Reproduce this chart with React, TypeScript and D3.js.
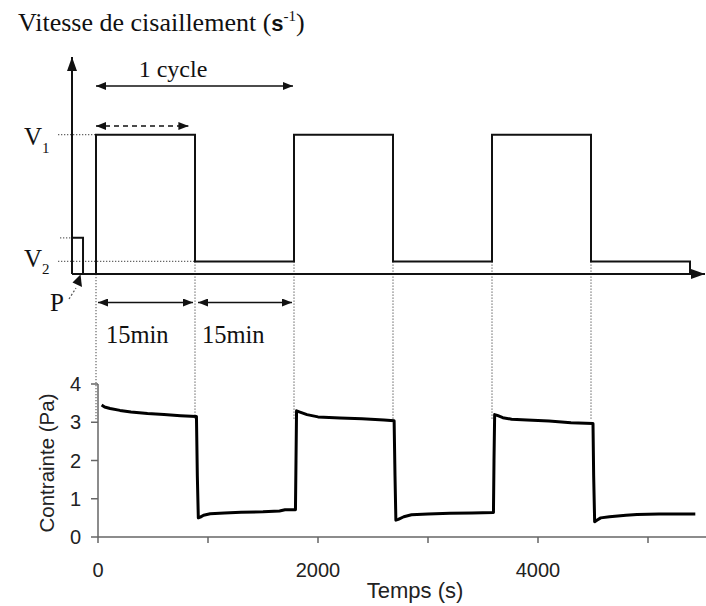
import React from 'react';
import * as d3 from 'd3';

// ---- data ----
const cycleBounds = [0, 900, 1800, 2700, 3600, 4500, 5400]; // s
const cycleLevels = ['V1', 'V2', 'V1', 'V2', 'V1', 'V2'];
const levelNames = ['P', 'V1', 'V2'];
const levelValues = [0.26, 1, 0.09];
const preShear = [-218, -118];

const stressTime = [
  33, 60, 110, 200, 300, 450, 600, 750, 895, 903, 912,
  930, 960, 1020, 1150, 1300, 1500, 1650, 1700, 1795, 1800, 1805,
  1830, 1900, 2000, 2200, 2400, 2600, 2692, 2700, 2708,
  2730, 2780, 2850, 3000, 3200, 3400, 3595, 3600, 3606,
  3630, 3680, 3760, 3900, 4100, 4300, 4500, 4506, 4515,
  4535, 4570, 4650, 4800, 4900, 5100, 5430,
];
const stressValue = [
  3.45, 3.4, 3.36, 3.31, 3.27, 3.23, 3.2, 3.17, 3.15, 1.6, 0.5,
  0.52, 0.57, 0.61, 0.63, 0.65, 0.66, 0.68, 0.71, 0.71, 2.0, 3.3,
  3.27, 3.2, 3.14, 3.11, 3.09, 3.06, 3.04, 1.6, 0.44,
  0.46, 0.53, 0.58, 0.6, 0.62, 0.63, 0.64, 2.0, 3.2,
  3.18, 3.12, 3.08, 3.06, 3.03, 2.99, 2.97, 1.6, 0.4,
  0.44, 0.5, 0.53, 0.57, 0.59, 0.6, 0.6,
];
const xTicks = [0, 1000, 2000, 3000, 4000, 5000];
const xTickLabels = ['0', '', '2000', '', '4000', ''];
const yTicks = [0, 1, 2, 3, 4];

const SERIF = '"Liberation Serif", "Times New Roman", serif';
const SANS = '"Liberation Sans", Arial, sans-serif';

export default function App() {
  const lvl = (n: string) => levelValues[levelNames.indexOf(n)];
  const xTop = d3.scaleLinear().domain([0, 5500]).range([96, 701]);
  const yTop = d3.scaleLinear().domain([0, 1]).range([274, 134.7]);
  const xBot = d3.scaleLinear().domain([0, 5500]).range([98, 703]);
  const yBot = d3.scaleLinear().domain([0, 4]).range([537, 384]);

  const line = d3.line<[number, number]>().x((d) => d[0]).y((d) => d[1]);

  // square wave
  const wave: [number, number][] = [[xTop(0), yTop(0)]];
  cycleLevels.forEach((l, i) => {
    wave.push([xTop(cycleBounds[i]), yTop(lvl(l))]);
    wave.push([xTop(cycleBounds[i + 1]), yTop(lvl(l))]);
  });
  wave.push([xTop(cycleBounds[cycleBounds.length - 1]), yTop(0)]);

  const pulse: [number, number][] = [
    [xTop(preShear[0]), yTop(lvl('P'))],
    [xTop(preShear[1]), yTop(lvl('P'))],
    [xTop(preShear[1]), yTop(0)],
  ];

  const stressLine = d3
    .line<number>()
    .x((_, i) => xBot(stressTime[i]))
    .y((d) => yBot(d));

  const axisX0 = xTop(preShear[0]);
  const dotted = { stroke: '#666', strokeWidth: 1.2, strokeDasharray: '1.3,1.7' };

  return (
    <svg width={706} height={606} style={{ position: 'absolute', left: 0, top: 0, background: '#fff' }}>
      <defs>
        <marker id="ah" viewBox="0 0 10 8" refX={10} refY={4} markerWidth={10} markerHeight={8}
          markerUnits="userSpaceOnUse" orient="auto-start-reverse">
          <path d="M0,0 L10,4 L0,8 z" fill="#111" />
        </marker>
        <marker id="ahBig" viewBox="0 0 14 10" refX={14} refY={5} markerWidth={14} markerHeight={10}
          markerUnits="userSpaceOnUse" orient="auto">
          <path d="M0,0 L14,5 L0,10 z" fill="#111" />
        </marker>
      </defs>

      {/* title */}
      <text x={18} y={31} fontFamily={SERIF} fontSize={26} fill="#111">
        Vitesse de cisaillement (
        <tspan fontFamily={SANS} fontWeight="bold" fontSize={22}>s</tspan>
        <tspan fontSize={15} dy={-10}>-1</tspan>
        <tspan dy={10}>)</tspan>
      </text>

      {/* guide dotted lines */}
      <line x1={58} x2={xTop(0)} y1={yTop(lvl('V1'))} y2={yTop(lvl('V1'))} {...dotted} />
      <line x1={58} x2={xTop(cycleBounds[1])} y1={yTop(lvl('V2'))} y2={yTop(lvl('V2'))} {...dotted} />
      <line x1={60} x2={axisX0} y1={yTop(lvl('P'))} y2={yTop(lvl('P'))} {...dotted} />
      {cycleBounds.slice(0, -1).map((b, i) => (
        <line key={b} x1={xTop(b)} x2={xTop(b)} y1={i === 0 ? yTop(0) : yTop(lvl('V2'))}
          y2={yBot(3.05)} {...dotted} />
      ))}

      {/* top axes */}
      <line x1={axisX0} x2={axisX0} y1={yTop(0)} y2={57} stroke="#111" strokeWidth={2} markerEnd="url(#ahBig)" />
      <line x1={axisX0} x2={705} y1={yTop(0)} y2={yTop(0)} stroke="#111" strokeWidth={2} markerEnd="url(#ahBig)" />

      {/* square wave */}
      <path d={line(wave) ?? ''} fill="none" stroke="#111" strokeWidth={2} />
      <path d={line(pulse) ?? ''} fill="none" stroke="#111" strokeWidth={2} />

      {/* cycle arrows */}
      <line x1={xTop(0)} x2={xTop(1800) - 1} y1={86} y2={86} stroke="#111" strokeWidth={1.6}
        markerStart="url(#ah)" markerEnd="url(#ah)" />
      <text x={173} y={77} textAnchor="middle" fontFamily={SERIF} fontSize={24} fill="#111">1 cycle</text>
      <line x1={xTop(0)} x2={xTop(840)} y1={126} y2={126} stroke="#111" strokeWidth={1.6}
        strokeDasharray="5,4" markerStart="url(#ah)" markerEnd="url(#ah)" />

      {/* 15 min arrows */}
      <line x1={xTop(0) + 2} x2={xTop(900) - 2} y1={302.5} y2={302.5} stroke="#111" strokeWidth={1.6}
        markerStart="url(#ah)" markerEnd="url(#ah)" />
      <line x1={xTop(900) + 3} x2={xTop(1800) - 2} y1={302.5} y2={302.5} stroke="#111" strokeWidth={1.6}
        markerStart="url(#ah)" markerEnd="url(#ah)" />
      <text x={xTop(0) + 10} y={343} fontFamily={SERIF} fontSize={24.5} fill="#111">15min</text>
      <text x={xTop(900) + 7} y={343} fontFamily={SERIF} fontSize={24.5} fill="#111">15min</text>

      {/* level labels */}
      <text x={24} y={145} fontFamily={SERIF} fontSize={25} fill="#111">V<tspan fontSize={15} dy={8}>1</tspan></text>
      <text x={24} y={267} fontFamily={SERIF} fontSize={25} fill="#111">V<tspan fontSize={15} dy={7}>2</tspan></text>
      <text x={50} y={311} fontFamily={SERIF} fontSize={25} fill="#111">P</text>
      <line x1={69} y1={299} x2={76} y2={288} stroke="#555" strokeWidth={1.2} strokeDasharray="2,2" />
      <path d="M80.5,274.5 L72.5,282.5 L82,287 z" fill="#111" />

      {/* bottom chart axes */}
      <line x1={xBot(0)} x2={xBot(0)} y1={yBot(0)} y2={yBot(4)} stroke="#666" strokeWidth={1.5} />
      <line x1={xBot(0)} x2={706} y1={yBot(0)} y2={yBot(0)} stroke="#666" strokeWidth={1.5} />
      {yTicks.map((t) => (
        <g key={t}>
          <line x1={xBot(0) - 7} x2={xBot(0)} y1={yBot(t)} y2={yBot(t)} stroke="#666" strokeWidth={1.5} />
          <text x={81} y={yBot(t)} dy="0.36em" textAnchor="end" fontFamily={SANS} fontSize={20} fill="#222">{t}</text>
        </g>
      ))}
      {xTicks.map((t, i) => (
        <g key={t}>
          <line x1={xBot(t)} x2={xBot(t)} y1={yBot(0)} y2={yBot(0) + 6} stroke="#666" strokeWidth={1.5} />
          <text x={xBot(t)} y={577} textAnchor="middle" fontFamily={SANS} fontSize={20} fill="#222">{xTickLabels[i]}</text>
        </g>
      ))}
      <text x={415} y={598} textAnchor="middle" fontFamily={SANS} fontSize={22} fill="#222">Temps (s)</text>
      <text transform="translate(47,463) rotate(-90)" textAnchor="middle" dy="0.36em" fontFamily={SANS}
        fontSize={20.5} fill="#222">Contrainte (Pa)</text>

      {/* stress curve */}
      <path d={stressLine(stressValue) ?? ''} fill="none" stroke="#000" strokeWidth={3} strokeLinejoin="round" />
    </svg>
  );
}
